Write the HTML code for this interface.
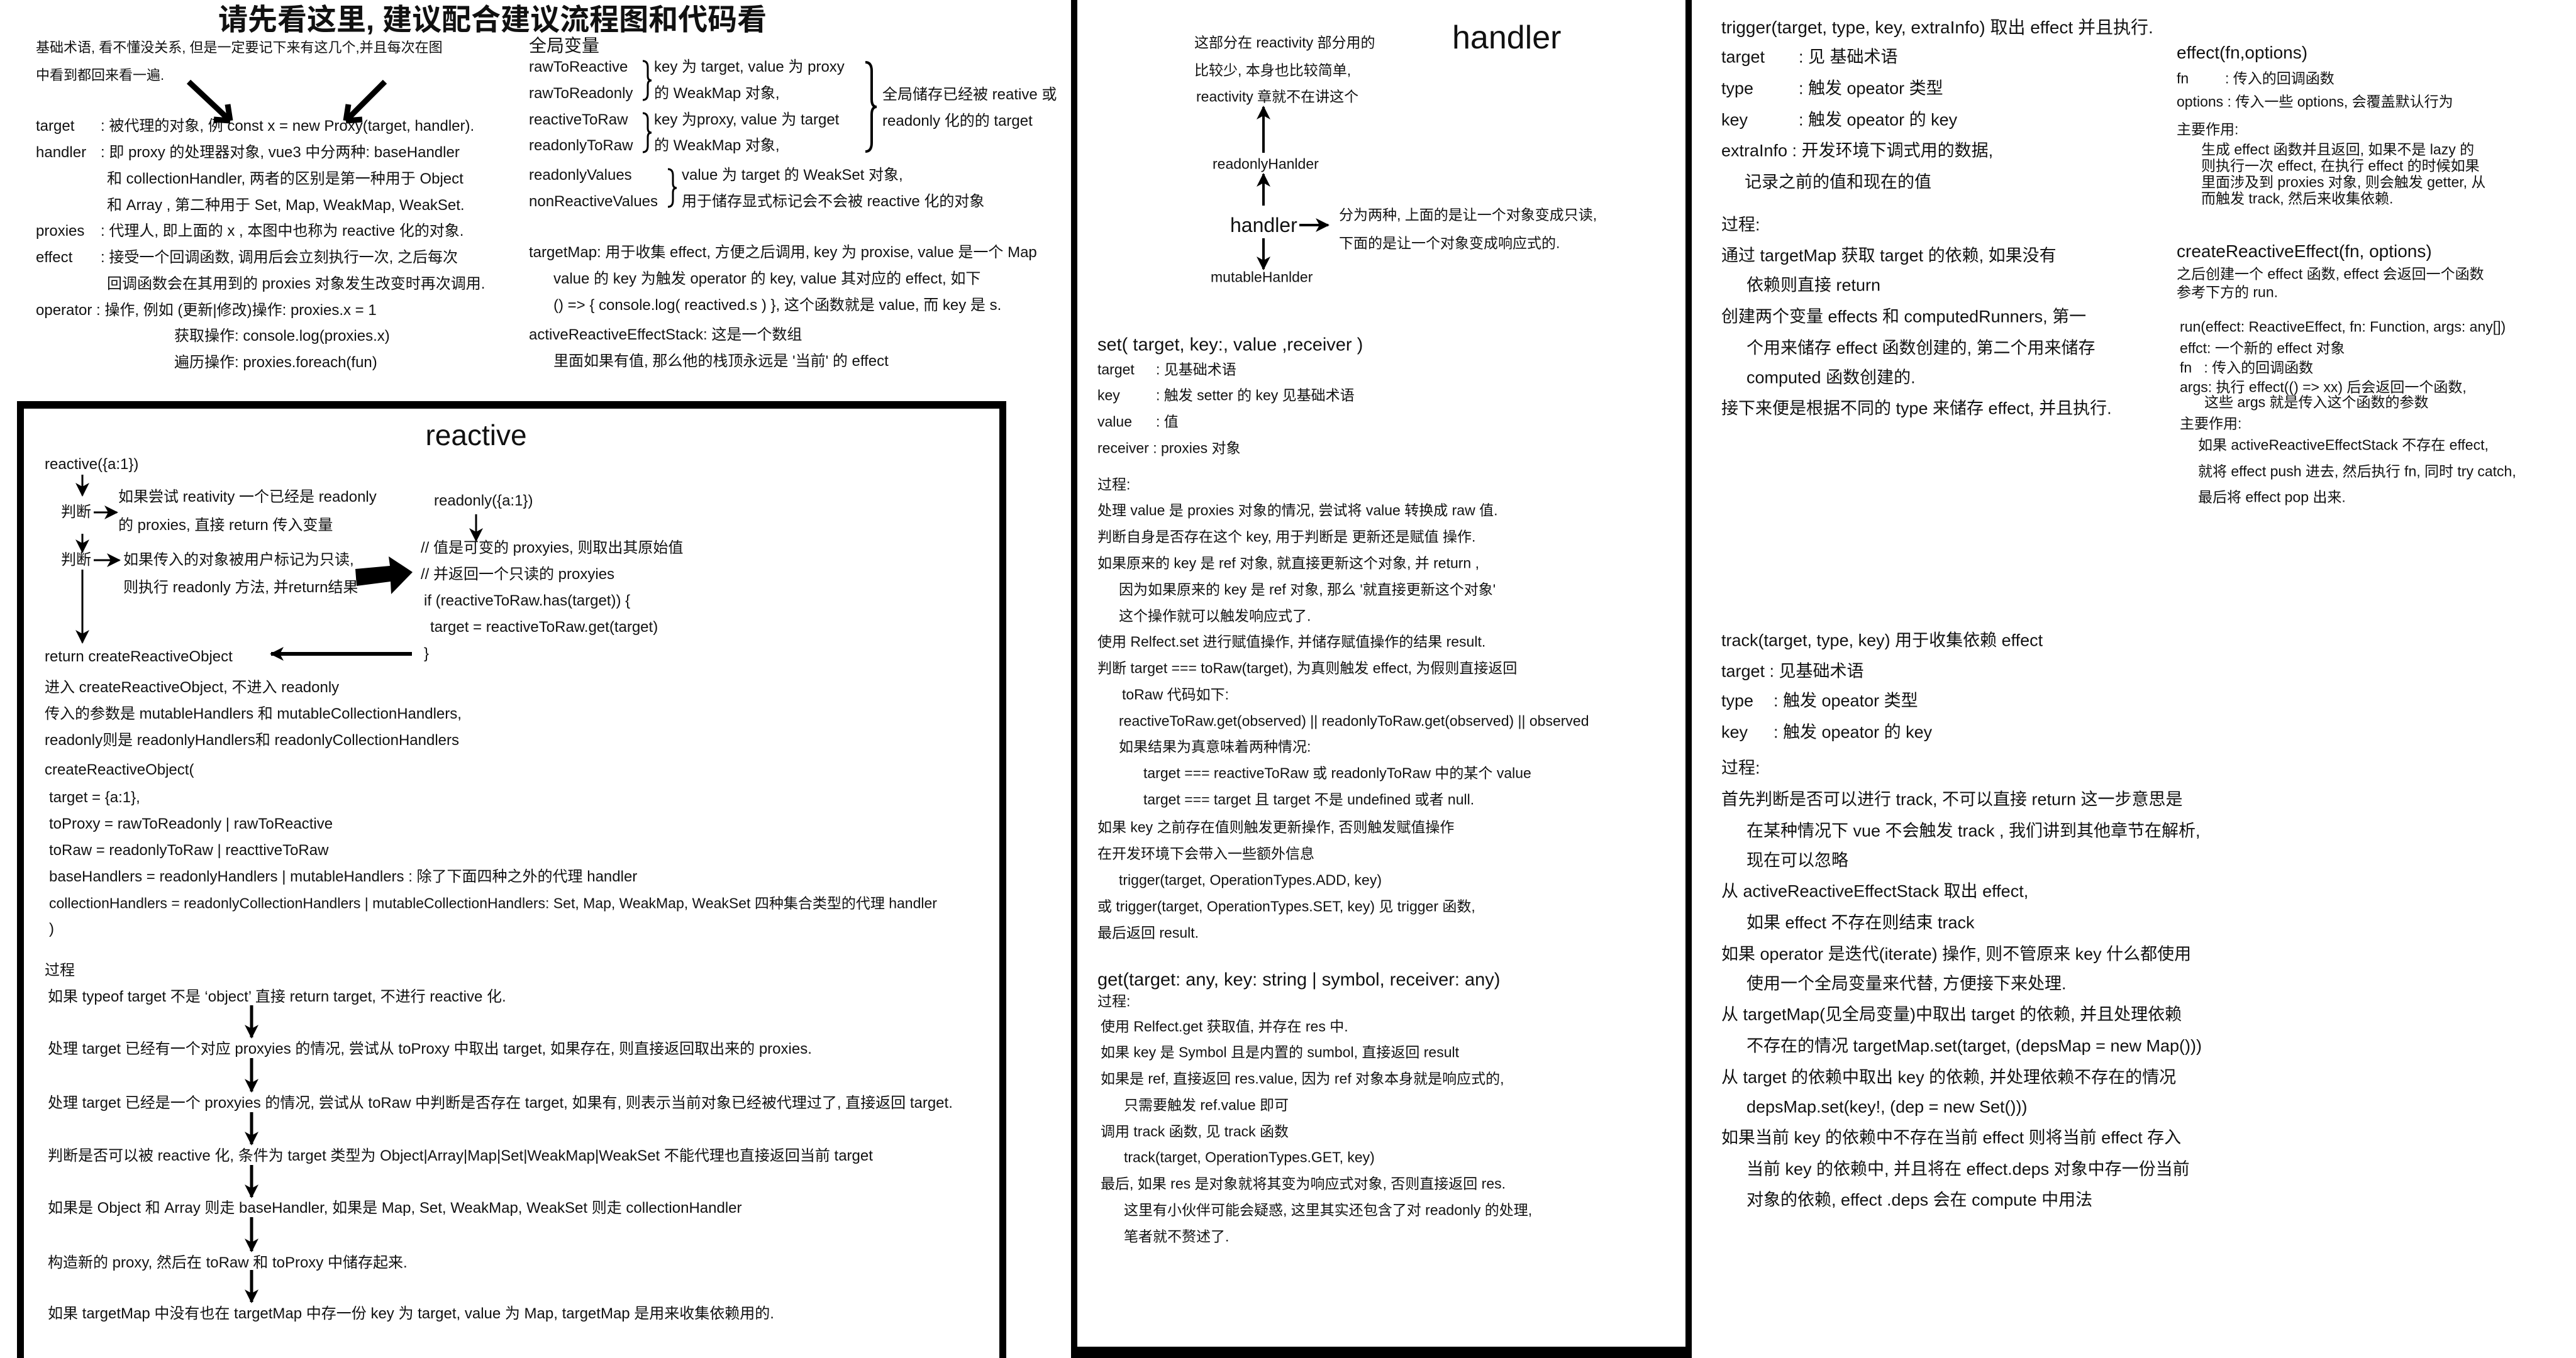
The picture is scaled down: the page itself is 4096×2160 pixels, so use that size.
<!DOCTYPE html>
<html><head><meta charset="utf-8">
<style>
html{overflow:hidden;width:4096px;height:2160px;}
html,body{margin:0;padding:0;background:#fff;}
body{width:4096px;height:2160px;position:relative;overflow:hidden;font-family:"Liberation Sans","Noto Sans CJK SC",sans-serif;color:#111;}
.t{position:absolute;white-space:nowrap;line-height:1;transform:translateY(-50%);font-size:24px;}
.m{font-size:23px;}
.r{font-size:27px;}
.s{font-size:23px;}
.box1{position:absolute;left:27px;top:638px;width:1551px;height:1522px;border:11px solid #000;border-top-width:12px;border-bottom:none;}
.box2{position:absolute;left:1703px;top:-20px;width:987px;height:2180px;border:10px solid #000;border-top:none;border-bottom-width:18px;box-sizing:border-box;}
svg{position:absolute;left:0;top:0;}
</style></head><body>
<div class="box1"></div>
<div class="box2"></div>

<!-- Title -->
<div class="t" style="left:347px;top:31px;font-size:47px;font-weight:bold;">请先看这里, 建议配合建议流程图和代码看</div>

<!-- Left top -->
<div class="t" style="left:57px;top:76px;font-size:22px">基础术语, 看不懂没关系, 但是一定要记下来有这几个,并且每次在图</div>
<div class="t" style="left:57px;top:120px;font-size:22px">中看到都回来看一遍.</div>
<div class="t" style="left:57px;top:201px">target</div><div class="t" style="left:160px;top:201px">: 被代理的对象, 例 const x = new Proxy(target, handler).</div>
<div class="t" style="left:57px;top:243px">handler</div><div class="t" style="left:160px;top:243px">: 即 proxy 的处理器对象, vue3 中分两种: baseHandler</div>
<div class="t" style="left:170px;top:285px">和 collectionHandler, 两者的区别是第一种用于 Object</div>
<div class="t" style="left:170px;top:327px">和 Array , 第二种用于 Set, Map, WeakMap, WeakSet.</div>
<div class="t" style="left:57px;top:368px">proxies</div><div class="t" style="left:160px;top:368px">: 代理人, 即上面的 x , 本图中也称为 reactive 化的对象.</div>
<div class="t" style="left:57px;top:410px">effect</div><div class="t" style="left:160px;top:410px">: 接受一个回调函数, 调用后会立刻执行一次, 之后每次</div>
<div class="t" style="left:170px;top:452px">回调函数会在其用到的 proxies 对象发生改变时再次调用.</div>
<div class="t" style="left:57px;top:494px">operator : 操作, 例如 (更新|修改)操作: proxies.x = 1</div>
<div class="t" style="left:277px;top:535px">获取操作: console.log(proxies.x)</div>
<div class="t" style="left:277px;top:577px">遍历操作: proxies.foreach(fun)</div>

<!-- Global vars -->
<div class="t" style="left:841px;top:73px;font-size:28px">全局变量</div>
<div class="t" style="left:841px;top:107px">rawToReactive</div><div class="t" style="left:1040px;top:107px">key 为 target,  value 为 proxy</div>
<div class="t" style="left:841px;top:149px">rawToReadonly</div><div class="t" style="left:1040px;top:149px">的 WeakMap 对象,</div>
<div class="t" style="left:841px;top:191px">reactiveToRaw</div><div class="t" style="left:1040px;top:191px">key 为proxy,  value 为 target</div>
<div class="t" style="left:841px;top:232px">readonlyToRaw</div><div class="t" style="left:1040px;top:232px">的 WeakMap 对象,</div>
<div class="t" style="left:1403px;top:151px">全局储存已经被 reative 或</div>
<div class="t" style="left:1403px;top:193px">readonly 化的的 target</div>
<div class="t" style="left:841px;top:279px">readonlyValues</div><div class="t" style="left:1084px;top:279px">value 为 target 的 WeakSet 对象,</div>
<div class="t" style="left:841px;top:321px">nonReactiveValues</div><div class="t" style="left:1084px;top:321px">用于储存显式标记会不会被 reactive 化的对象</div>
<div class="t" style="left:841px;top:402px">targetMap: 用于收集 effect, 方便之后调用, key 为 proxise, value 是一个 Map</div>
<div class="t" style="left:880px;top:444px">value 的 key 为触发 operator 的 key, value 其对应的 effect, 如下</div>
<div class="t" style="left:880px;top:486px">() =&gt; { console.log( reactived.s ) }, 这个函数就是 value, 而 key 是 s.</div>
<div class="t" style="left:841px;top:533px">activeReactiveEffectStack: 这是一个数组</div>
<div class="t" style="left:880px;top:575px">里面如果有值, 那么他的栈顶永远是 '当前' 的 effect</div>

<!-- Reactive box -->
<div class="t" style="left:757px;top:692px;font-size:46px;transform:translate(-50%,-50%)">reactive</div>
<div class="t" style="left:71px;top:739px">reactive({a:1})</div>
<div class="t" style="left:188px;top:791px">如果尝试 reativity 一个已经是 readonly</div>
<div class="t" style="left:188px;top:836px">的 proxies, 直接 return 传入变量</div>
<div class="t" style="left:97px;top:815px">判断</div>
<div class="t" style="left:97px;top:891px">判断</div>
<div class="t" style="left:196px;top:891px">如果传入的对象被用户标记为只读,</div>
<div class="t" style="left:196px;top:935px">则执行 readonly 方法, 并return结果</div>
<div class="t" style="left:690px;top:797px">readonly({a:1})</div>
<div class="t" style="left:669px;top:872px">// 值是可变的 proxyies, 则取出其原始值</div>
<div class="t" style="left:669px;top:914px">// 并返回一个只读的 proxyies</div>
<div class="t" style="left:674px;top:956px">if (reactiveToRaw.has(target)) {</div>
<div class="t" style="left:684px;top:998px">target = reactiveToRaw.get(target)</div>
<div class="t" style="left:674px;top:1040px">}</div>
<div class="t" style="left:71px;top:1045px">return createReactiveObject</div>
<div class="t" style="left:71px;top:1094px">进入 createReactiveObject, 不进入 readonly</div>
<div class="t" style="left:71px;top:1136px">传入的参数是 mutableHandlers 和 mutableCollectionHandlers,</div>
<div class="t" style="left:71px;top:1178px">readonly则是 readonlyHandlers和 readonlyCollectionHandlers</div>
<div class="t" style="left:71px;top:1225px">createReactiveObject(</div>
<div class="t" style="left:78px;top:1269px">target = {a:1},</div>
<div class="t" style="left:78px;top:1311px">toProxy = rawToReadonly | rawToReactive</div>
<div class="t" style="left:78px;top:1353px">toRaw = readonlyToRaw | reacttiveToRaw</div>
<div class="t" style="left:78px;top:1395px">baseHandlers = readonlyHandlers | mutableHandlers : 除了下面四种之外的代理 handler</div>
<div class="t" style="left:78px;top:1437px;font-size:23px">collectionHandlers = readonlyCollectionHandlers | mutableCollectionHandlers: Set, Map, WeakMap, WeakSet 四种集合类型的代理 handler</div>
<div class="t" style="left:78px;top:1478px">)</div>
<div class="t" style="left:71px;top:1544px">过程</div>
<div class="t" style="left:76px;top:1586px">如果 typeof target 不是 ‘object’ 直接 return target, 不进行 reactive 化.</div>
<div class="t" style="left:76px;top:1669px">处理 target 已经有一个对应 proxyies 的情况, 尝试从 toProxy 中取出 target, 如果存在, 则直接返回取出来的 proxies.</div>
<div class="t" style="left:76px;top:1755px">处理 target 已经是一个 proxyies 的情况, 尝试从 toRaw 中判断是否存在 target, 如果有, 则表示当前对象已经被代理过了, 直接返回 target.</div>
<div class="t" style="left:76px;top:1839px">判断是否可以被 reactive 化, 条件为 target 类型为 Object|Array|Map|Set|WeakMap|WeakSet 不能代理也直接返回当前 target</div>
<div class="t" style="left:76px;top:1922px">如果是 Object 和 Array 则走 baseHandler, 如果是 Map, Set, WeakMap, WeakSet 则走 collectionHandler</div>
<div class="t" style="left:76px;top:2009px">构造新的 proxy, 然后在 toRaw 和 toProxy 中储存起来.</div>
<div class="t" style="left:76px;top:2090px">如果 targetMap 中没有也在 targetMap 中存一份 key 为 target, value 为 Map, targetMap 是用来收集依赖用的.</div>

<!-- Middle -->
<div class="t m" style="left:1899px;top:68px">这部分在 reactivity 部分用的</div>
<div class="t m" style="left:1899px;top:112px">比较少, 本身也比较简单,</div>
<div class="t m" style="left:1902px;top:154px">reactivity 章就不在讲这个</div>
<div class="t" style="left:2309px;top:60px;font-size:52px">handler</div>
<div class="t m" style="left:1928px;top:261px">readonlyHanlder</div>
<div class="t" style="left:1956px;top:358px;font-size:32px">handler</div>
<div class="t m" style="left:2129px;top:342px">分为两种, 上面的是让一个对象变成只读,</div>
<div class="t m" style="left:2129px;top:387px">下面的是让一个对象变成响应式的.</div>
<div class="t m" style="left:1925px;top:441px">mutableHanlder</div>
<div class="t" style="left:1745px;top:549px;font-size:29px">set( target, key:, value ,receiver )</div>
<div class="t m" style="left:1745px;top:588px">target</div><div class="t m" style="left:1838px;top:588px">: 见基础术语</div>
<div class="t m" style="left:1745px;top:629px">key</div><div class="t m" style="left:1838px;top:629px">: 触发 setter 的 key 见基础术语</div>
<div class="t m" style="left:1745px;top:671px">value</div><div class="t m" style="left:1838px;top:671px">: 值</div>
<div class="t m" style="left:1745px;top:713px">receiver : proxies 对象</div>
<div class="t m" style="left:1745px;top:771px">过程:</div>
<div class="t m" style="left:1745px;top:812px">处理 value 是 proxies 对象的情况, 尝试将 value 转换成 raw 值.</div>
<div class="t m" style="left:1745px;top:854px">判断自身是否存在这个 key, 用于判断是 更新还是赋值 操作.</div>
<div class="t m" style="left:1745px;top:896px">如果原来的 key 是 ref 对象, 就直接更新这个对象, 并 return ,</div>
<div class="t m" style="left:1779px;top:938px">因为如果原来的 key 是 ref 对象, 那么 '就直接更新这个对象'</div>
<div class="t m" style="left:1779px;top:980px">这个操作就可以触发响应式了.</div>
<div class="t m" style="left:1745px;top:1021px">使用 Relfect.set 进行赋值操作, 并储存赋值操作的结果 result.</div>
<div class="t m" style="left:1745px;top:1063px">判断 target === toRaw(target), 为真则触发 effect, 为假则直接返回</div>
<div class="t m" style="left:1784px;top:1105px">toRaw 代码如下:</div>
<div class="t m" style="left:1779px;top:1147px">reactiveToRaw.get(observed) || readonlyToRaw.get(observed) || observed</div>
<div class="t m" style="left:1779px;top:1188px">如果结果为真意味着两种情况:</div>
<div class="t m" style="left:1818px;top:1230px">target === reactiveToRaw 或 readonlyToRaw 中的某个 value</div>
<div class="t m" style="left:1818px;top:1272px">target === target 且 target 不是 undefined 或者 null.</div>
<div class="t m" style="left:1745px;top:1316px">如果 key 之前存在值则触发更新操作, 否则触发赋值操作</div>
<div class="t m" style="left:1745px;top:1358px">在开发环境下会带入一些额外信息</div>
<div class="t m" style="left:1779px;top:1400px">trigger(target, OperationTypes.ADD, key)</div>
<div class="t m" style="left:1745px;top:1442px">或  trigger(target, OperationTypes.SET, key) 见 trigger 函数,</div>
<div class="t m" style="left:1745px;top:1484px">最后返回 result.</div>
<div class="t" style="left:1745px;top:1559px;font-size:29px">get(target: any, key: string | symbol, receiver: any)</div>
<div class="t m" style="left:1745px;top:1593px">过程:</div>
<div class="t m" style="left:1750px;top:1633px">使用 Relfect.get 获取值, 并存在 res 中.</div>
<div class="t m" style="left:1750px;top:1674px">如果 key 是 Symbol 且是内置的 sumbol, 直接返回 result</div>
<div class="t m" style="left:1750px;top:1716px">如果是 ref, 直接返回 res.value, 因为 ref 对象本身就是响应式的,</div>
<div class="t m" style="left:1787px;top:1758px">只需要触发 ref.value 即可</div>
<div class="t m" style="left:1750px;top:1800px">调用 track 函数, 见 track 函数</div>
<div class="t m" style="left:1787px;top:1841px">track(target, OperationTypes.GET, key)</div>
<div class="t m" style="left:1750px;top:1883px">最后, 如果 res 是对象就将其变为响应式对象, 否则直接返回 res.</div>
<div class="t m" style="left:1787px;top:1925px">这里有小伙伴可能会疑惑, 这里其实还包含了对 readonly 的处理,</div>
<div class="t m" style="left:1787px;top:1967px">笔者就不赘述了.</div>

<!-- Right -->
<div class="t" style="left:2737px;top:44px;font-size:28px">trigger(target, type, key, extraInfo) 取出 effect 并且执行.</div>
<div class="t r" style="left:2737px;top:91px">target</div><div class="t r" style="left:2860px;top:91px">: 见 基础术语</div>
<div class="t r" style="left:2737px;top:141px">type</div><div class="t r" style="left:2860px;top:141px">: 触发 opeator 类型</div>
<div class="t r" style="left:2737px;top:191px">key</div><div class="t r" style="left:2860px;top:191px">: 触发 opeator 的 key</div>
<div class="t r" style="left:2737px;top:240px">extraInfo : 开发环境下调式用的数据,</div>
<div class="t r" style="left:2774px;top:290px">记录之前的值和现在的值</div>
<div class="t r" style="left:2737px;top:358px">过程:</div>
<div class="t r" style="left:2737px;top:407px">通过 targetMap 获取 target 的依赖, 如果没有</div>
<div class="t r" style="left:2777px;top:454px">依赖则直接 return</div>
<div class="t r" style="left:2737px;top:504px">创建两个变量 effects 和 computedRunners, 第一</div>
<div class="t r" style="left:2777px;top:554px">个用来储存 effect 函数创建的, 第二个用来储存</div>
<div class="t r" style="left:2777px;top:601px">computed 函数创建的.</div>
<div class="t r" style="left:2737px;top:650px">接下来便是根据不同的 type 来储存 effect, 并且执行.</div>

<div class="t" style="left:3461px;top:84px;font-size:28px">effect(fn,options)</div>
<div class="t s" style="left:3461px;top:125px">fn</div><div class="t s" style="left:3538px;top:125px">: 传入的回调函数</div>
<div class="t s" style="left:3461px;top:162px">options : 传入一些 options, 会覆盖默认行为</div>
<div class="t s" style="left:3461px;top:206px">主要作用:</div>
<div class="t s" style="left:3500px;top:238px">生成 effect 函数并且返回, 如果不是 lazy 的</div>
<div class="t s" style="left:3500px;top:264px">则执行一次 effect, 在执行 effect 的时候如果</div>
<div class="t s" style="left:3500px;top:290px">里面涉及到 proxies 对象, 则会触发 getter, 从</div>
<div class="t s" style="left:3500px;top:316px">而触发 track, 然后来收集依赖.</div>
<div class="t" style="left:3461px;top:400px;font-size:28px">createReactiveEffect(fn, options)</div>
<div class="t s" style="left:3461px;top:436px">之后创建一个 effect 函数, effect 会返回一个函数</div>
<div class="t s" style="left:3461px;top:465px">参考下方的 run.</div>
<div class="t s" style="left:3466px;top:520px">run(effect: ReactiveEffect, fn: Function, args: any[])</div>
<div class="t s" style="left:3466px;top:554px">effct: 一个新的 effect 对象</div>
<div class="t s" style="left:3466px;top:585px">fn&nbsp;&nbsp;&nbsp;: 传入的回调函数</div>
<div class="t s" style="left:3466px;top:616px">args: 执行 effect(() =&gt; xx) 后会返回一个函数,</div>
<div class="t s" style="left:3505px;top:640px">这些 args 就是传入这个函数的参数</div>
<div class="t s" style="left:3466px;top:674px">主要作用:</div>
<div class="t s" style="left:3495px;top:708px">如果 activeReactiveEffectStack 不存在 effect,</div>
<div class="t s" style="left:3495px;top:750px">就将 effect push 进去, 然后执行 fn, 同时 try catch,</div>
<div class="t s" style="left:3495px;top:791px">最后将 effect pop 出来.</div>

<div class="t r" style="left:2737px;top:1019px">track(target, type, key) 用于收集依赖 effect</div>
<div class="t r" style="left:2737px;top:1068px">target : 见基础术语</div>
<div class="t r" style="left:2737px;top:1115px">type</div><div class="t r" style="left:2820px;top:1115px">: 触发 opeator 类型</div>
<div class="t r" style="left:2737px;top:1165px">key</div><div class="t r" style="left:2820px;top:1165px">: 触发 opeator 的 key</div>
<div class="t r" style="left:2737px;top:1222px">过程:</div>
<div class="t r" style="left:2737px;top:1272px">首先判断是否可以进行 track, 不可以直接 return 这一步意思是</div>
<div class="t r" style="left:2777px;top:1322px">在某种情况下 vue 不会触发 track , 我们讲到其他章节在解析,</div>
<div class="t r" style="left:2777px;top:1369px">现在可以忽略</div>
<div class="t r" style="left:2737px;top:1418px">从 activeReactiveEffectStack 取出 effect,</div>
<div class="t r" style="left:2777px;top:1468px">如果 effect 不存在则结束 track</div>
<div class="t r" style="left:2737px;top:1518px">如果 operator 是迭代(iterate) 操作, 则不管原来 key 什么都使用</div>
<div class="t r" style="left:2777px;top:1565px">使用一个全局变量来代替, 方便接下来处理.</div>
<div class="t r" style="left:2737px;top:1614px">从 targetMap(见全局变量)中取出 target 的依赖, 并且处理依赖</div>
<div class="t r" style="left:2777px;top:1664px">不存在的情况 targetMap.set(target, (depsMap = new Map()))</div>
<div class="t r" style="left:2737px;top:1714px">从 target 的依赖中取出 key 的依赖, 并处理依赖不存在的情况</div>
<div class="t r" style="left:2777px;top:1761px">depsMap.set(key!, (dep = new Set()))</div>
<div class="t r" style="left:2737px;top:1810px">如果当前 key 的依赖中不存在当前 effect 则将当前 effect 存入</div>
<div class="t r" style="left:2777px;top:1860px">当前 key 的依赖中, 并且将在 effect.deps 对象中存一份当前</div>
<div class="t r" style="left:2777px;top:1909px">对象的依赖, effect .deps 会在 compute 中用法</div>

<svg width="4096" height="2160" viewBox="0 0 4096 2160">
<defs>
<marker id="b" markerWidth="22" markerHeight="22" refX="20" refY="11" orient="auto" markerUnits="userSpaceOnUse" viewBox="0 0 22 22"><path d="M0,0 L22,11 L0,22 L6,11 Z" fill="#000"/></marker>
</defs>
<g stroke="#000" fill="none">
<path d="M300,130 L366,192" stroke-width="9"/><path d="M366,192 L340,190 M366,192 L362,166" stroke-width="9"/>
<path d="M612,130 L550,192" stroke-width="9"/><path d="M550,192 L576,190 M550,192 L554,166" stroke-width="9"/>
<path d="M1022,97 q8,0 8,10 v14 q0,7 6,7 q-6,0 -6,7 v14 q0,10 -8,10" stroke-width="3"/>
<path d="M1022,180 q8,0 8,10 v14 q0,7 6,7 q-6,0 -6,7 v14 q0,10 -8,10" stroke-width="3"/>
<path d="M1376,99 q10,0 10,14 v45 q0,12 8,12 q-8,0 -8,12 v45 q0,14 -10,14" stroke-width="4"/>
<path d="M1062,269 q8,0 8,10 v13 q0,7 6,7 q-6,0 -6,7 v13 q0,10 -8,10" stroke-width="3"/>
<g stroke-width="3">
<line x1="131" y1="755" x2="131" y2="788" marker-end="url(#b)"/>
<line x1="131" y1="849" x2="131" y2="878" marker-end="url(#b)"/>
<line x1="131" y1="906" x2="131" y2="1022" marker-end="url(#b)"/>
<line x1="149" y1="815" x2="186" y2="815" marker-end="url(#b)"/>
<line x1="149" y1="891" x2="190" y2="891" marker-end="url(#b)"/>
<line x1="757" y1="818" x2="757" y2="860" marker-end="url(#b)"/>
</g>
<line x1="655" y1="1040" x2="431" y2="1040" stroke-width="6" marker-end="url(#b)"/>
<g stroke-width="5">
<line x1="400" y1="1599" x2="400" y2="1650" marker-end="url(#b)"/>
<line x1="400" y1="1683" x2="400" y2="1736" marker-end="url(#b)"/>
<line x1="400" y1="1769" x2="400" y2="1820" marker-end="url(#b)"/>
<line x1="400" y1="1853" x2="400" y2="1904" marker-end="url(#b)"/>
<line x1="400" y1="1936" x2="400" y2="1990" marker-end="url(#b)"/>
<line x1="400" y1="2020" x2="400" y2="2071" marker-end="url(#b)"/>
</g>
<g stroke-width="4">
<line x1="2009" y1="243" x2="2009" y2="170" marker-end="url(#b)"/>
<line x1="2009" y1="327" x2="2009" y2="277" marker-end="url(#b)"/>
<line x1="2009" y1="379" x2="2009" y2="428" marker-end="url(#b)"/>
<line x1="2066" y1="358" x2="2112" y2="358" marker-end="url(#b)"/>
</g>
</g>
<polygon points="565,905 620,900 618,885 656,910 622,945 621,925 567,932" fill="#000"/>
</svg>
</body></html>
